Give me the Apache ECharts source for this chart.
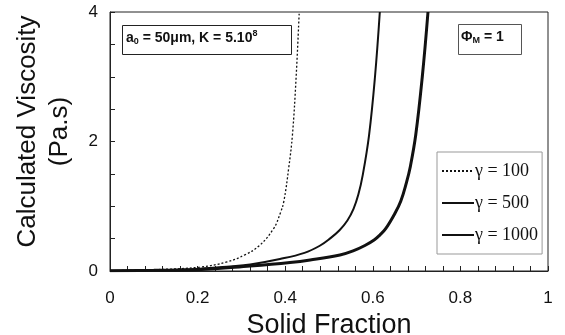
<!DOCTYPE html>
<html>
<head>
<meta charset="UTF-8">
<title>Calculated Viscosity</title>
<script src="https://cdn.jsdelivr.net/npm/echarts@6/dist/echarts.min.js"></script>
<style>
  html, body { margin: 0; padding: 0; background: #fff; }
  #main { width: 565px; height: 335px; }
</style>
</head>
<body>
<div id="main"></div>
<script>
// values
var xTicks = ['0', '0.2', '0.4', '0.6', '0.8', '1'];
var yTicks = ['0', '2', '4'];

var frac100 = [0, 0.1, 0.205, 0.267, 0.308, 0.340, 0.373, 0.389, 0.397, 0.408, 0.4165, 0.425, 0.432];
var visc100 = [0.005, 0.02, 0.06, 0.14, 0.25, 0.386, 0.649, 0.896, 1.08, 1.59, 2.10, 3.0, 4.0];

var frac500 = [0, 0.1, 0.205, 0.274, 0.32, 0.388, 0.444, 0.479, 0.502, 0.524, 0.542, 0.556, 0.567, 0.577, 0.5915, 0.605, 0.616];
var visc500 = [0.005, 0.012, 0.035, 0.07, 0.10, 0.185, 0.28, 0.39, 0.50, 0.63, 0.78, 0.96, 1.18, 1.48, 2.10, 3.0, 4.0];

var frac1000 = [0, 0.1, 0.2, 0.32, 0.411, 0.457, 0.525, 0.555, 0.582, 0.603, 0.616, 0.629, 0.651, 0.664, 0.677, 0.685, 0.698, 0.713, 0.726];
var visc1000 = [0.005, 0.01, 0.02, 0.077, 0.131, 0.17, 0.247, 0.31, 0.394, 0.479, 0.555, 0.649, 0.896, 1.08, 1.37, 1.59, 2.10, 3.0, 4.0];

function pairs(xs, ys) {
    var out = [];
    for (var i = 0; i < xs.length; i++) out.push([xs[i], ys[i]]);
    return out;
}

var chart = echarts.init(document.getElementById('main'));

var option = {
    animation: false,
    backgroundColor: '#fff',
    grid: {
        left: 110, right: 17, top: 12, bottom: 64,
        outerBoundsMode: 'none',
        show: true, borderColor: '#222', borderWidth: 1
    },
    legend: {
        orient: 'vertical',
        left: 437, top: 152,
        width: 103, height: 104,
        padding: [10, 4, 10, 4],
        itemGap: 14,
        itemWidth: 32, itemHeight: 10,
        itemStyle: { opacity: 0 },
        borderColor: '#999', borderWidth: 1,
        backgroundColor: '#fff',
        textStyle: { fontFamily: 'Liberation Serif', fontSize: 18, color: '#111', padding: [0, 0, 0, -4] },
        data: ['\u03b3 = 100', '\u03b3 = 500', '\u03b3 = 1000']
    },
    xAxis: {
        type: 'value', min: 0, max: 1, interval: 0.2,
        name: 'Solid Fraction', nameLocation: 'middle', nameGap: 38,
        nameTextStyle: { fontFamily: 'Liberation Sans', fontSize: 27, color: '#111' },
        axisLine: { lineStyle: { color: '#222' } },
        axisTick: { inside: true, length: 5, lineStyle: { color: '#222' } },
        minorTick: { show: true, splitNumber: 5, length: 5, lineStyle: { color: '#222' } },
        splitLine: { show: false },
        axisLabel: {
            margin: 19, fontFamily: 'Liberation Sans', fontSize: 17, color: '#111',
            formatter: function (v) { return xTicks[Math.round(v * 5)]; }
        }
    },
    yAxis: {
        type: 'value', min: 0, max: 4, interval: 2,
        name: 'Calculated Viscosity\n(Pa.s)', nameLocation: 'middle', nameGap: 34,
        nameRotate: 90,
        nameTextStyle: { fontFamily: 'Liberation Sans', fontSize: 26, color: '#111', lineHeight: 32, padding: [0, 0, 0, 20] },
        axisLine: { show: true, lineStyle: { color: '#222' } },
        axisTick: { inside: true, length: 5, lineStyle: { color: '#222' } },
        minorTick: { show: true, splitNumber: 4, length: 5, lineStyle: { color: '#222' } },
        splitLine: { show: false },
        axisLabel: {
            margin: 12, fontFamily: 'Liberation Sans', fontSize: 17, color: '#111',
            formatter: function (v) { return yTicks[Math.round(v / 2)]; }
        }
    },
    graphic: [
        {
            type: 'rect', left: 122, top: 25,
            shape: { width: 169, height: 29 },
            style: { fill: '#fff', stroke: '#222', lineWidth: 1 }
        },
        {
            type: 'text', left: 126, top: 29,
            style: {
                text: '{b|a}{s|0}{b| = 50\u03bcm, K = 5.10}{p|8}',
                rich: {
                    b: { fontFamily: 'Liberation Sans', fontWeight: 'bold', fontSize: 14, fill: '#111', lineHeight: 18 },
                    s: { fontFamily: 'Liberation Sans', fontWeight: 'bold', fontSize: 9, fill: '#111', lineHeight: 18, padding: [7, 0, 0, 0] },
                    p: { fontFamily: 'Liberation Sans', fontWeight: 'bold', fontSize: 9, fill: '#111', lineHeight: 18, padding: [0, 0, 10, 0] }
                }
            }
        },
        {
            type: 'rect', left: 458, top: 24,
            shape: { width: 63, height: 30 },
            style: { fill: '#fff', stroke: '#555', lineWidth: 1 }
        },
        {
            type: 'text', left: 461, top: 29,
            style: {
                text: '{b|\u03a6}{s|M}{b| = 1}',
                rich: {
                    b: { fontFamily: 'Liberation Sans', fontWeight: 'bold', fontSize: 14, fill: '#111', lineHeight: 18 },
                    s: { fontFamily: 'Liberation Sans', fontWeight: 'bold', fontSize: 9, fill: '#111', lineHeight: 18, padding: [7, 0, 0, 0] }
                }
            }
        }
    ],
    series: [
        {
            name: '\u03b3 = 100', type: 'line', symbol: 'none', smooth: 0.4,
            clip: true,
            lineStyle: { color: '#111', width: 1.3, type: [2, 2] },
            itemStyle: { color: '#111' },
            data: pairs(frac100, visc100)
        },
        {
            name: '\u03b3 = 500', type: 'line', symbol: 'none', smooth: 0.4,
            clip: true,
            lineStyle: { color: '#111', width: 2 },
            itemStyle: { color: '#111' },
            data: pairs(frac500, visc500)
        },
        {
            name: '\u03b3 = 1000', type: 'line', symbol: 'none', smooth: 0.4,
            clip: true,
            lineStyle: { color: '#111', width: 3 },
            itemStyle: { color: '#111' },
            data: pairs(frac1000, visc1000)
        }
    ]
};

chart.setOption(option);
</script>
</body>
</html>
